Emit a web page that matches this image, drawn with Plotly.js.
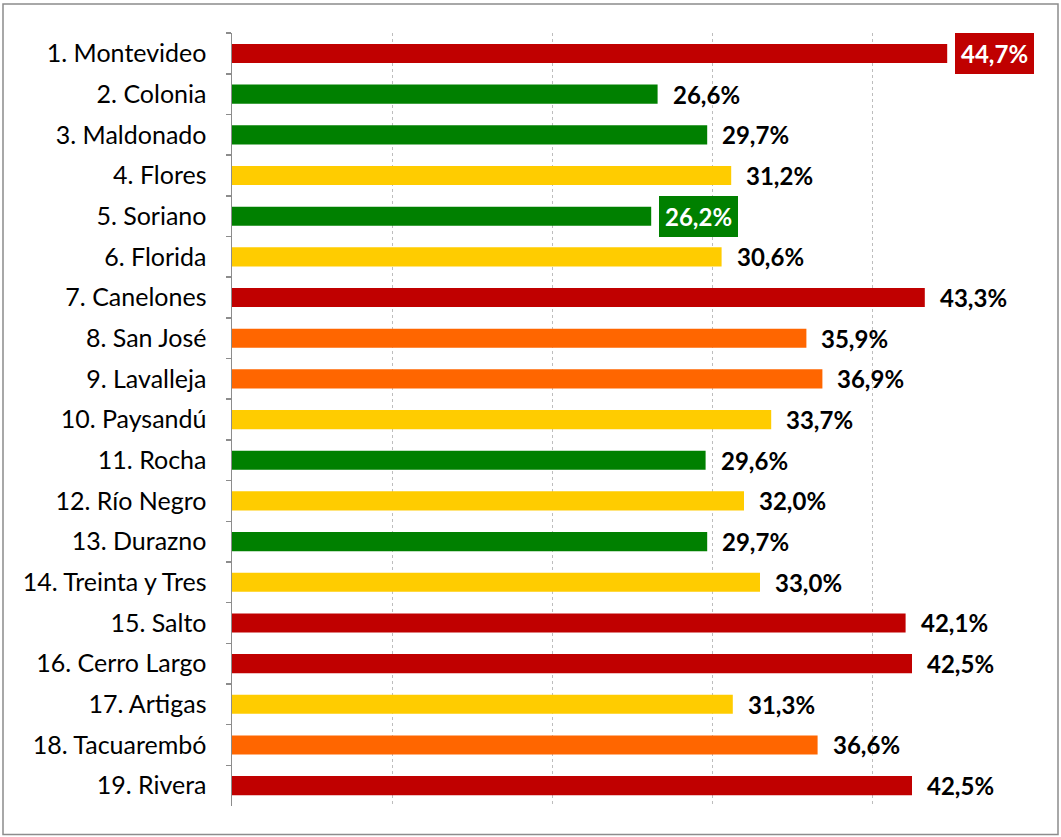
<!DOCTYPE html>
<html>
<head>
<meta charset="utf-8">
<script src="https://cdn.plot.ly/plotly-3.0.1.min.js"></script>
<style>
  html, body { margin: 0; padding: 0; background: #fff; }
  #chart { width: 1061px; height: 837px; }
</style>
</head>
<body>
<div id="chart"></div>
<script>
const categories = [
  "1. Montevideo", "2. Colonia", "3. Maldonado", "4. Flores", "5. Soriano",
  "6. Florida", "7. Canelones", "8. San José", "9. Lavalleja", "10. Paysandú",
  "11. Rocha", "12. Río Negro", "13. Durazno", "14. Treinta y Tres", "15. Salto",
  "16. Cerro Largo", "17. Artigas", "18. Tacuarembó", "19. Rivera"
];
const values = [44.7, 26.6, 29.7, 31.2, 26.2, 30.6, 43.3, 35.9, 36.9, 33.7,
                29.6, 32.0, 29.7, 33.0, 42.1, 42.5, 31.3, 36.6, 42.5];
const levels = ["red", "green", "green", "yellow", "green", "yellow", "red", "orange", "orange", "yellow",
                "green", "yellow", "green", "yellow", "red", "red", "yellow", "orange", "red"];
const highlighted = ["1. Montevideo", "5. Soriano"];

const palette = { red: "#C00000", green: "#008000", yellow: "#FFCC00", orange: "#FF6600" };
const barColors = levels.map(l => palette[l]);
const fmt = v => v.toFixed(1).replace(".", ",") + "%";
const FONT = "Lato, 'Open Sans', sans-serif";

const trace = {
  type: "bar",
  orientation: "h",
  x: values,
  y: categories,
  marker: { color: barColors },
  width: 0.47,
  hoverinfo: "skip"
};

const annotations = categories.map((c, i) => {
  const hl = highlighted.includes(c);
  return {
    x: values[i], y: c, xref: "x", yref: "y",
    text: fmt(values[i]),
    showarrow: false,
    xanchor: "left",
    yanchor: "middle",
    xshift: hl ? 8 : 15,
    font: { family: FONT, size: 24, color: hl ? "#ffffff" : "#000000", weight: "bold" },
    bgcolor: hl ? barColors[i] : "rgba(0,0,0,0)",
    borderpad: hl ? 6 : 0,
    borderwidth: 0
  };
});

const L = 232, R = 1032, T = 33, B = 806.4, W = 1061, H = 837;
const pw = R - L, ph = B - T;
const border = {
  type: "rect", xref: "paper", yref: "paper",
  x0: (3 - L) / pw, x1: (1058 - L) / pw,
  y0: (B - 835) / ph, y1: (B - 4) / ph,
  line: { color: "#8c8c8c", width: 1.5 },
  fillcolor: "rgba(0,0,0,0)",
  layer: "below"
};

const layout = {
  width: W, height: H,
  margin: { l: L, r: W - R, t: T, b: H - B, pad: 0 },
  paper_bgcolor: "#ffffff",
  plot_bgcolor: "#ffffff",
  showlegend: false,
  font: { family: FONT, size: 24, color: "#000000" },
  xaxis: {
    range: [0, 50],
    dtick: 10,
    showticklabels: false,
    showgrid: true,
    gridcolor: "#bdbdbd",
    griddash: "dot",
    gridwidth: 1,
    zeroline: false,
    showline: false,
    ticks: "",
    fixedrange: true
  },
  yaxis: {
    categoryorder: "array",
    categoryarray: categories,
    autorange: "reversed",
    showline: true,
    linecolor: "#8c8c8c",
    linewidth: 1.5,
    ticks: "outside",
    tickson: "boundaries",
    ticklen: 5,
    tickcolor: "#8c8c8c",
    tickwidth: 1.5,
    ticklabelstandoff: 19,
    showgrid: false,
    zeroline: false,
    tickfont: { family: FONT, size: 25, color: "#000000" },
    fixedrange: true
  },
  shapes: [border],
  annotations: annotations
};

Plotly.newPlot("chart", [trace], layout, { displayModeBar: false, staticPlot: true });
</script>
</body>
</html>
